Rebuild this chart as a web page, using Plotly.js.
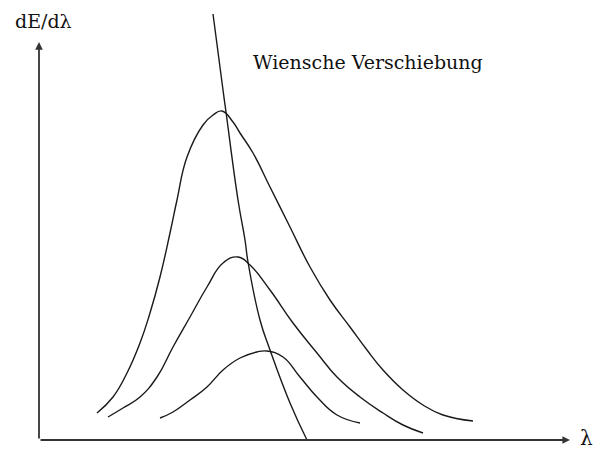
<!DOCTYPE html>
<html>
<head>
<meta charset="utf-8">
<script src="https://cdn.plot.ly/plotly-3.0.1.min.js"></script>
<style>
  html, body { margin: 0; padding: 0; background: #fff; }
  #chart { width: 597px; height: 449px; }
</style>
</head>
<body>
<div id="chart"></div>
<script>
// Spectral radiance curves dE/dλ for three temperatures (arbitrary units)
const hotLambda  = [0.58, 0.74, 0.88, 1.01, 1.11, 1.21, 1.31, 1.38, 1.48, 1.64, 1.74, 1.83, 1.94, 2.01, 2.14, 2.31, 2.51, 2.71, 2.91, 3.11, 3.28, 3.44, 3.64, 3.84, 4.04, 4.34];
const hotE       = [0.27, 0.43, 0.67, 0.97, 1.27, 1.63, 2.07, 2.40, 2.83, 3.15, 3.25, 3.29, 3.18, 3.07, 2.87, 2.53, 2.13, 1.73, 1.40, 1.13, 0.90, 0.70, 0.50, 0.35, 0.25, 0.19];

const midLambda  = [0.69, 0.84, 1.01, 1.18, 1.34, 1.51, 1.68, 1.84, 1.99, 2.11, 2.31, 2.54, 2.78, 2.98, 3.21, 3.44, 3.64, 3.84];
const midE       = [0.23, 0.32, 0.43, 0.63, 0.93, 1.23, 1.53, 1.77, 1.83, 1.75, 1.50, 1.17, 0.87, 0.63, 0.43, 0.27, 0.15, 0.07];

const coolLambda = [1.21, 1.34, 1.51, 1.68, 1.84, 2.01, 2.18, 2.28, 2.44, 2.61, 2.78, 2.98, 3.21];
const coolE      = [0.22, 0.28, 0.40, 0.53, 0.70, 0.82, 0.88, 0.89, 0.83, 0.63, 0.43, 0.25, 0.17];

// Locus of the maxima (Wien's displacement)
const wienLambda = [1.74, 1.84, 1.87, 1.99, 2.06, 2.09, 2.21, 2.31, 2.51, 2.68];
const wienE      = [4.26, 3.50, 3.28, 2.40, 2.00, 1.78, 1.20, 0.90, 0.37, 0.00];

// Labels
const yLabel = 'dE/dλ';
const xLabel = 'λ';
const wienLabel = 'Wiensche Verschiebung';

const lineStyle = { color: '#1a1a1a', width: 1.4, shape: 'spline', smoothing: 1.3 };

function curve(x, y) {
  return { x: x, y: y, type: 'scatter', mode: 'lines', line: lineStyle, hoverinfo: 'skip', showlegend: false };
}

const traces = [
  curve(hotLambda, hotE),
  curve(midLambda, midE),
  curve(coolLambda, coolE),
  curve(wienLambda, wienE)
];

const serif = 'DejaVu Serif';

const layout = {
  width: 597,
  height: 449,
  margin: { l: 0, r: 0, t: 0, b: 0 },
  paper_bgcolor: '#ffffff',
  plot_bgcolor: '#ffffff',
  showlegend: false,
  font: { family: serif, color: '#111' },
  xaxis: { range: [-0.39, 5.58], visible: false, fixedrange: true },
  yaxis: { range: [-0.09, 4.40], visible: false, fixedrange: true },
  annotations: [
    // horizontal axis with arrow
    { x: 5.31, y: 0, ax: 0, ay: 0, xref: 'x', yref: 'y', axref: 'x', ayref: 'y',
      text: '', showarrow: true, arrowhead: 2, arrowsize: 0.85, arrowwidth: 1.8, arrowcolor: '#333' },
    // vertical axis with arrow
    { x: 0, y: 3.98, ax: 0, ay: 0, xref: 'x', yref: 'y', axref: 'x', ayref: 'y',
      text: '', showarrow: true, arrowhead: 2, arrowsize: 0.85, arrowwidth: 1.8, arrowcolor: '#333' },
    { x: 0.04, y: 4.19, xref: 'x', yref: 'y', text: yLabel, showarrow: false,
      font: { size: 19, family: serif, color: '#111' }, xanchor: 'center', yanchor: 'middle' },
    { x: 5.47, y: 0.02, xref: 'x', yref: 'y', text: xLabel, showarrow: false,
      font: { size: 20, family: serif, color: '#111' }, xanchor: 'center', yanchor: 'middle' },
    { x: 3.29, y: 3.78, xref: 'x', yref: 'y', text: wienLabel, showarrow: false,
      font: { size: 19, family: serif, color: '#111' }, xanchor: 'center', yanchor: 'middle' }
  ]
};

Plotly.newPlot('chart', traces, layout, { staticPlot: true, displayModeBar: false });
</script>
</body>
</html>
